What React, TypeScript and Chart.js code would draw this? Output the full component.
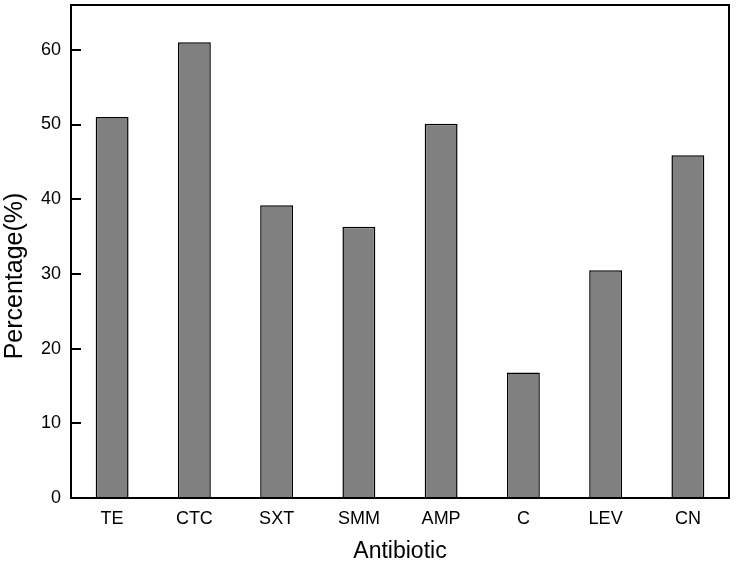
import React, { useEffect, useRef } from "react";
import { Chart, registerables } from "chart.js";

Chart.register(...registerables);

const categories = ["TE", "CTC", "SXT", "SMM", "AMP", "C", "LEV", "CN"];
const percentages = [51, 61, 39.2, 36.3, 50.1, 16.8, 30.5, 45.9];
const yTickValues = [0, 10, 20, 30, 40, 50, 60];
const xTitle = "Antibiotic";
const yTitle = "Percentage(%)";

const FONT = "Arial, 'Liberation Sans', sans-serif";

const framePlugin = {
  id: "frame",
  afterDraw(chart: any) {
    const { ctx, chartArea } = chart;
    const y = chart.scales.y;
    ctx.save();
    ctx.strokeStyle = "#000";
    ctx.lineWidth = 2;
    ctx.strokeRect(chartArea.left, chartArea.top, chartArea.right - chartArea.left, chartArea.bottom - chartArea.top);
    ctx.beginPath();
    for (const t of y.ticks) {
      const py = Math.round(y.getPixelForValue(t.value));
      ctx.moveTo(chartArea.left, py);
      ctx.lineTo(chartArea.left + 10, py);
    }
    ctx.stroke();
    // y axis title
    ctx.translate(15, 276);
    ctx.rotate(-Math.PI / 2);
    ctx.fillStyle = "#000";
    ctx.font = `25px ${FONT}`;
    ctx.textAlign = "center";
    ctx.textBaseline = "middle";
    ctx.fillText(yTitle, 0, 0);
    ctx.restore();
  },
};

export default function App() {
  const ref = useRef<HTMLCanvasElement>(null);
  useEffect(() => {
    if (!ref.current) return;
    const chart = new Chart(ref.current, {
      type: "bar",
      data: {
        labels: categories,
        datasets: [
          {
            data: percentages,
            backgroundColor: "#808080",
            borderColor: "#000",
            borderWidth: 1.5,
            barPercentage: 0.4,
            categoryPercentage: 1,
          },
        ],
      },
      options: {
        responsive: false,
        animation: false,
        layout: { padding: { top: 5, right: 9, left: 0, bottom: 0 } },
        plugins: { legend: { display: false }, tooltip: { enabled: false } },
        scales: {
          x: {
            grid: { display: false, drawTicks: false },
            border: { display: false },
            ticks: { color: "#000", font: { family: FONT, size: 18 }, padding: 10 },
            title: {
              display: true,
              text: xTitle,
              color: "#000",
              font: { family: FONT, size: 23 },
              padding: { top: 0, bottom: 0 },
            },
            afterFit: (s: any) => {
              s.height = 67;
              s.paddingLeft = 0;
              s.paddingRight = 0;
            },
          },
          y: {
            min: 0,
            max: 66,
            grid: { display: false, drawTicks: false },
            border: { display: false },
            ticks: { stepSize: 10, color: "#000", font: { family: FONT, size: 18 }, padding: 10 },
            afterBuildTicks: (s: any) => {
              s.ticks = yTickValues.map((v) => ({ value: v }));
            },
            title: { display: false },
            afterFit: (s: any) => {
              s.width = 71;
              s.paddingTop = 0;
              s.paddingBottom = 0;
            },
          },
        },
      },
      plugins: [framePlugin],
    });
    return () => chart.destroy();
  }, []);
  return (
    <div style={{ position: "fixed", left: 0, top: 0, width: 738, height: 565, background: "#fff" }}>
      <canvas ref={ref} width={738} height={565} style={{ width: 738, height: 565, display: "block" }} />
    </div>
  );
}
